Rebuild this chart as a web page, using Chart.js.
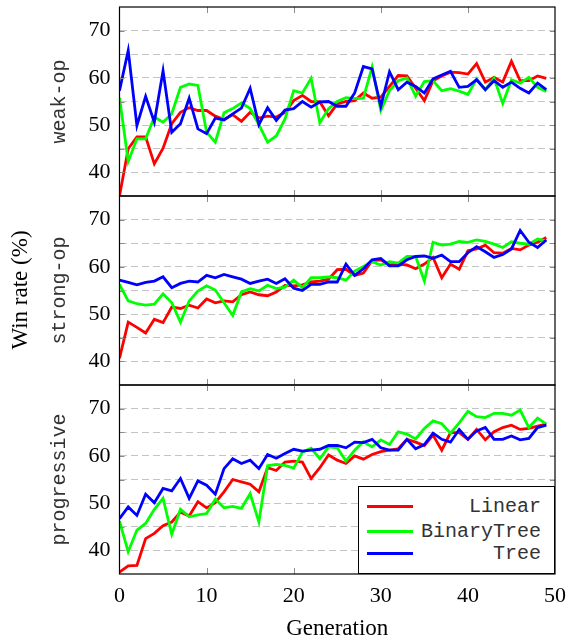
<!DOCTYPE html>
<html>
<head>
<meta charset="utf-8">
<script src="https://cdn.jsdelivr.net/npm/chart.js@4.4.1/dist/chart.umd.min.js"></script>
<style>
  html, body { margin: 0; padding: 0; background: #fff; }
  #wrap { position: relative; width: 568px; height: 641px; overflow: hidden; }
  #wrap canvas { position: absolute; left: 0; }
  #ylabel {
    position: absolute; left: -128px; top: 275px; width: 300px; height: 30px;
    line-height: 30px; text-align: center; transform: rotate(-90deg);
    font: 23px 'Liberation Serif', serif; color: #000;
  }
  #legend {
    position: absolute; left: 358px; top: 486px; width: 197px; height: 88px;
    box-sizing: border-box; border: 1px solid #000; background: #fff; z-index: 5;
  }
  #legend .row { position: absolute; left: 0; right: 0; height: 24px; }
  #legend .swatch { position: absolute; left: 8px; top: 10px; width: 46px; height: 3px; }
  #legend .name {
    position: absolute; right: 13px; top: 0; line-height: 24px;
    font: 20px 'Liberation Mono', monospace; color: #333;
  }
</style>
</head>
<body>
<div id="wrap">
  <canvas id="panel0"></canvas>
  <canvas id="panel1"></canvas>
  <canvas id="panel2"></canvas>
  <div id="ylabel">Win rate (%)</div>
  <div id="legend"></div>
</div>
<script>
// ---- data ----
const generations = [0,1,2,3,4,5,6,7,8,9,10,11,12,13,14,15,16,17,18,19,20,21,22,23,24,
  25,26,27,28,29,30,31,32,33,34,35,36,37,38,39,40,41,42,43,44,45,46,47,48,49];

const panelTitles = ['weak-op', 'strong-op', 'progressive'];
const seriesNames = ['Linear', 'BinaryTree', 'Tree'];
const xTickLabels = [0, 10, 20, 30, 40, 50];
const yTickLabels = [40, 50, 60, 70];

const weakLinear = [35.0,45.0,47.5,47.5,41.8,45.1,50.3,52.7,53.7,53.1,53.1,51.9,51.2,52.2,50.8,52.7,51.5,51.9,51.7,52.7,
  55.2,56.3,55.0,54.9,52.0,54.5,55.0,55.2,56.8,55.7,55.9,58.2,60.5,60.4,57.8,55.2,59.4,60.4,61.2,61.1,
  60.8,63.0,59.1,60.1,59.1,63.5,59.4,59.4,60.4,59.9];
const weakBinaryTree = [55.8,42.3,47.1,47.1,51.7,50.6,52.4,58.0,58.7,58.4,48.5,46.4,52.6,53.5,54.7,53.5,50.1,46.4,47.7,51.3,
  57.3,56.8,59.9,50.5,53.5,55.0,55.8,55.6,55.7,62.3,53.1,57.3,59.4,60.0,56.1,59.2,59.4,57.3,57.7,57.2,
  56.5,59.8,57.5,59.9,54.6,59.6,58.9,60.1,58.0,57.1];
const weakTree = [57.3,65.8,49.9,56.1,50.6,61.5,48.5,50.3,55.7,49.2,48.2,51.5,51.1,52.4,53.6,57.8,50.1,53.7,51.0,53.2,
  53.5,55.0,53.8,54.9,55.0,54.0,54.0,56.8,62.4,61.9,54.0,61.3,57.5,59.1,58.2,56.8,59.8,60.6,61.4,58.0,
  58.2,59.6,57.5,59.4,58.0,59.1,57.8,56.8,58.9,57.5];

const strongLinear = [40.7,48.3,47.2,46.0,48.9,48.2,51.5,51.2,51.9,51.3,53.2,52.4,52.8,52.6,54.1,54.7,54.1,53.9,54.7,56.1,
  56.0,56.2,56.8,57.0,57.4,59.4,59.5,58.2,58.7,61.3,61.5,60.4,60.6,60.4,59.6,60.6,62.0,57.7,60.6,59.5,
  63.4,63.8,64.6,63.0,62.9,63.9,63.6,64.6,65.2,66.2];
const strongBinaryTree = [56.3,52.8,52.2,51.9,52.1,54.3,52.4,48.3,52.8,54.9,56.0,55.1,52.4,49.7,54.7,55.4,54.9,56.1,55.4,55.7,
  57.2,55.6,57.7,57.7,57.9,57.7,57.2,59.1,60.1,61.1,60.4,61.1,60.8,62.2,62.2,57.0,65.2,64.6,64.8,65.4,
  65.2,65.7,65.4,64.8,64.1,65.3,65.0,64.8,65.9,65.5];
const strongTree = [57.2,56.7,56.2,56.7,57.0,57.9,55.6,56.5,57.0,56.8,58.2,57.7,58.4,57.9,57.4,56.5,57.0,57.4,56.5,57.5,
  55.5,55.0,56.3,56.3,56.8,56.8,60.6,58.2,59.6,61.5,61.8,60.2,60.2,61.5,62.2,62.3,61.8,62.5,61.1,61.1,
  63.0,64.3,63.2,62.0,62.6,63.8,67.7,65.2,64.1,65.7];

const progLinear = [35.4,36.7,36.8,42.5,43.6,45.2,46.0,48.1,47.3,50.3,49.0,50.1,52.4,55.0,54.5,54.0,52.4,57.5,56.9,58.7,
  58.9,58.7,55.2,57.5,60.2,59.1,58.4,60.0,59.3,60.3,60.9,61.2,61.5,63.5,62.9,62.2,64.4,61.2,64.9,64.9,
  63.5,65.6,63.4,65.1,66.0,66.5,65.6,65.8,66.3,66.7];
const progBinaryTree = [46.2,39.7,44.3,45.7,48.7,51.0,43.4,48.7,47.1,47.5,47.8,50.8,49.0,49.3,48.9,52.0,46.0,57.9,58.2,58.0,
  57.4,60.8,61.6,59.4,61.9,61.7,58.9,61.2,63.0,61.9,63.4,62.4,65.1,64.6,63.6,65.8,67.4,66.8,64.8,67.0,
  69.4,68.3,68.1,69.0,69.0,68.6,69.7,66.0,68.0,66.7];
const progTree = [46.7,49.2,47.4,51.9,50.1,53.1,52.6,55.2,51.0,54.7,53.8,51.9,57.3,59.4,58.4,59.1,57.3,60.3,59.5,60.5,
  61.4,61.0,61.2,61.4,62.2,62.2,61.7,62.9,62.8,63.5,61.7,61.2,61.2,63.5,61.5,62.4,64.8,63.5,62.9,65.6,
  63.5,65.3,66.0,63.5,63.5,64.2,63.4,63.7,66.0,66.5];

const panelSeries = [
  [weakLinear, weakBinaryTree, weakTree],
  [strongLinear, strongBinaryTree, strongTree],
  [progLinear, progBinaryTree, progTree]
];

// ---- styling / layout ----
const seriesColors = ['#ff0000', '#00ff00', '#0000ff'];
const panelTops = [7, 196, 385];
const panelBottoms = [196, 385, 574];
const plotLeft = 119.5, plotRight = 555, pageW = 568, pageH = 641;
const serif = "'Liberation Serif', 'DejaVu Serif', serif";
const mono = "'Liberation Mono', 'DejaVu Sans Mono', monospace";

const framePlugin = {
  id: 'frame',
  afterDatasetsDraw(chart) {
    const { ctx, chartArea: a, scales: { x, y } } = chart;
    ctx.save();
    ctx.strokeStyle = '#8c8c8c';
    ctx.lineWidth = 1;
    ctx.beginPath();
    [10, 20, 30, 40].forEach(v => {
      const px = Math.round(x.getPixelForValue(v)) + 0.5;
      ctx.moveTo(px, a.top); ctx.lineTo(px, a.top + 6);
      ctx.moveTo(px, a.bottom); ctx.lineTo(px, a.bottom - 6);
    });
    [40, 45, 50, 55, 60, 65, 70].forEach(v => {
      const py = Math.round(y.getPixelForValue(v)) + 0.5;
      ctx.moveTo(a.left, py); ctx.lineTo(a.left + 5, py);
      ctx.moveTo(a.right, py); ctx.lineTo(a.right - 5, py);
    });
    ctx.stroke();
    ctx.strokeStyle = '#000';
    ctx.lineWidth = 1.2;
    ctx.strokeRect(a.left, a.top, a.right - a.left, a.bottom - a.top);
    ctx.restore();
  }
};

function makePanel(i) {
  const isBottom = i === 2;
  const pad = 3;
  const top = panelTops[i] - pad;
  const height = isBottom ? pageH - top : panelBottoms[i] - panelTops[i] + 2 * pad;
  const canvas = document.getElementById('panel' + i);
  canvas.style.top = top + 'px';
  canvas.width = pageW;
  canvas.height = height;

  return new Chart(canvas, {
    type: 'line',
    data: {
      datasets: seriesNames.map((name, k) => ({
        label: name,
        data: generations.map((g, j) => ({ x: g, y: panelSeries[i][k][j] })),
        borderColor: seriesColors[k],
        backgroundColor: seriesColors[k],
        borderWidth: 2.8,
        pointRadius: 0,
        tension: 0,
        fill: false,
        order: 2 - k
      }))
    },
    options: {
      animation: false,
      responsive: false,
      events: [],
      layout: { padding: { left: 0, right: pageW - plotRight, top: pad, bottom: isBottom ? 0 : pad } },
      plugins: {
        legend: { display: false },
        tooltip: { enabled: false }
      },
      scales: {
        x: {
          type: 'linear',
          min: 0,
          max: 50,
          display: isBottom,
          grid: { display: false },
          border: { display: false },
          ticks: {
            stepSize: 10,
            autoSkip: false,
            maxRotation: 0,
            padding: 1,
            color: '#000',
            font: { family: serif, size: 22 },
            callback: v => xTickLabels.includes(v) ? String(v) : ''
          },
          title: {
            display: isBottom,
            text: 'Generation',
            color: '#000',
            font: { family: serif, size: 23, lineHeight: 1 },
            padding: { top: 0, bottom: 1 }
          },
          afterFit: s => {
            s.paddingLeft = 0;
            s.paddingRight = 0;
            if (isBottom) s.height = pageH - panelBottoms[2];
          }
        },
        y: {
          min: 35,
          max: 75,
          grid: {
            drawTicks: false,
            lineWidth: 1,
            color: c => (c.tick.value === 35 || c.tick.value === 75) ? 'rgba(0,0,0,0)' : '#c4c4c4'
          },
          border: { display: false, dash: [7, 4] },
          ticks: {
            stepSize: 5,
            autoSkip: false,
            padding: 9,
            color: '#000',
            font: { family: serif, size: 22 },
            callback: v => yTickLabels.includes(v) ? String(v) : ''
          },
          title: {
            display: true,
            text: panelTitles[i],
            color: '#333',
            font: { family: mono, size: 20, lineHeight: 1.2 },
            padding: { top: 48, bottom: 0 }
          },
          afterFit: s => {
            s.width = plotLeft;
            s.paddingTop = 0;
            s.paddingBottom = 0;
          }
        }
      }
    },
    plugins: [framePlugin]
  });
}

[0, 1, 2].forEach(makePanel);

// legend box drawn inside the bottom panel
const legend = document.getElementById('legend');
const rowCenters = [20, 45, 67];
seriesNames.forEach((name, k) => {
  const row = document.createElement('div');
  row.className = 'row';
  row.style.top = (rowCenters[k] - 12) + 'px';
  const sw = document.createElement('span');
  sw.className = 'swatch';
  sw.style.background = seriesColors[k];
  const tx = document.createElement('span');
  tx.className = 'name';
  tx.textContent = name;
  row.appendChild(sw);
  row.appendChild(tx);
  legend.appendChild(row);
});
</script>
</body>
</html>
